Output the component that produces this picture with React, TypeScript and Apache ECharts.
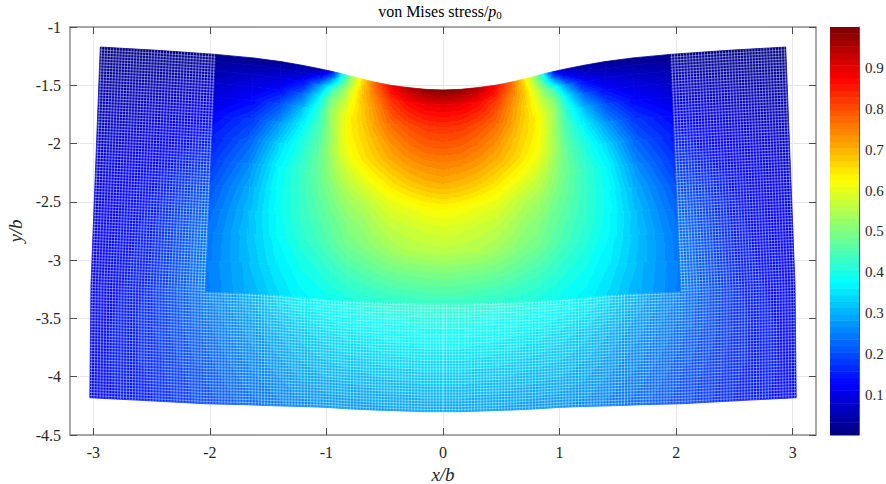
import React, { useEffect, useRef } from "react";
import * as echarts from "echarts";

// Half-width node columns (|x|/b; the plot is mirrored about x = 0)
const columns = [0, 0.15, 0.3, 0.45, 0.6, 0.7, 0.8, 0.87, 0.95, 1.05, 1.2, 1.4, 1.65, 2, 2.5, 3];
const xTop = [0, 0.15, 0.3, 0.45, 0.6, 0.7, 0.8, 0.87, 0.95, 1.05, 1.2, 1.39, 1.63, 1.95, 2.45, 2.94];
const xInner = [0, 0.15, 0.31, 0.46, 0.61, 0.71, 0.82, 0.89, 0.97, 1.07, 1.23, 1.43, 1.69, 2.04, 2.54, 3.02];
const xBottom = [0, 0.15, 0.31, 0.46, 0.61, 0.71, 0.82, 0.89, 0.97, 1.07, 1.23, 1.43, 1.69, 2.04, 2.54, 3.03];
const yTop = [-1.54, -1.535, -1.52, -1.5, -1.47, -1.445, -1.42, -1.4, -1.382, -1.36, -1.33, -1.297, -1.265, -1.235, -1.2, -1.172];
const yInner = [-3.375, -3.375, -3.37, -3.365, -3.36, -3.355, -3.35, -3.345, -3.34, -3.33, -3.32, -3.3, -3.285, -3.272, -3.245, -3.22];
const yBottom = [-4.3, -4.3, -4.295, -4.29, -4.285, -4.28, -4.275, -4.27, -4.265, -4.26, -4.255, -4.25, -4.24, -4.232, -4.205, -4.18];

// Row fractions: 13 rows from the surface to the dense block's lower edge, then 3 below it
const upperRows = [0, 0.03, 0.07, 0.12, 0.18, 0.26, 0.35, 0.45, 0.55, 0.65, 0.75, 0.87, 1];
const lowerRows = [0.33, 0.67, 1];

// von Mises stress / p0, one line per column in `columns`, top to bottom
const stress = [
  [1.0, 0.96, 0.9, 0.865, 0.825, 0.79, 0.745, 0.7, 0.63, 0.59, 0.56, 0.495, 0.43, 0.375, 0.325, 0.285],
  [0.985, 0.95, 0.895, 0.86, 0.82, 0.785, 0.74, 0.69, 0.625, 0.585, 0.555, 0.49, 0.43, 0.375, 0.325, 0.285],
  [0.945, 0.92, 0.87, 0.84, 0.8, 0.765, 0.725, 0.675, 0.61, 0.575, 0.55, 0.485, 0.425, 0.37, 0.32, 0.28],
  [0.875, 0.86, 0.825, 0.8, 0.77, 0.735, 0.7, 0.65, 0.6, 0.565, 0.535, 0.48, 0.42, 0.365, 0.32, 0.28],
  [0.76, 0.755, 0.74, 0.72, 0.715, 0.69, 0.67, 0.62, 0.57, 0.54, 0.515, 0.465, 0.415, 0.36, 0.315, 0.275],
  [0.64, 0.66, 0.68, 0.675, 0.67, 0.66, 0.645, 0.6, 0.55, 0.52, 0.5, 0.455, 0.41, 0.355, 0.31, 0.275],
  [0.5, 0.53, 0.58, 0.605, 0.635, 0.635, 0.615, 0.575, 0.535, 0.51, 0.49, 0.445, 0.405, 0.35, 0.31, 0.27],
  [0.36, 0.42, 0.5, 0.55, 0.585, 0.59, 0.585, 0.55, 0.52, 0.49, 0.475, 0.435, 0.395, 0.345, 0.305, 0.27],
  [0.12, 0.25, 0.42, 0.5, 0.535, 0.535, 0.535, 0.52, 0.495, 0.475, 0.46, 0.425, 0.39, 0.34, 0.305, 0.27],
  [0.05, 0.12, 0.27, 0.38, 0.43, 0.45, 0.475, 0.48, 0.47, 0.455, 0.44, 0.41, 0.38, 0.335, 0.3, 0.265],
  [0.035, 0.07, 0.13, 0.22, 0.31, 0.38, 0.41, 0.43, 0.43, 0.425, 0.415, 0.39, 0.37, 0.32, 0.29, 0.26],
  [0.025, 0.05, 0.09, 0.13, 0.2, 0.27, 0.34, 0.375, 0.385, 0.385, 0.375, 0.36, 0.34, 0.3, 0.27, 0.245],
  [0.02, 0.04, 0.07, 0.1, 0.13, 0.18, 0.22, 0.265, 0.295, 0.31, 0.315, 0.31, 0.295, 0.27, 0.25, 0.225],
  [0.015, 0.03, 0.05, 0.07, 0.095, 0.13, 0.155, 0.175, 0.205, 0.225, 0.24, 0.245, 0.25, 0.23, 0.21, 0.195],
  [0.012, 0.02, 0.03, 0.045, 0.06, 0.08, 0.1, 0.12, 0.135, 0.145, 0.15, 0.155, 0.16, 0.165, 0.16, 0.155],
  [0.008, 0.012, 0.02, 0.03, 0.045, 0.055, 0.07, 0.085, 0.095, 0.105, 0.11, 0.115, 0.12, 0.13, 0.135, 0.13],
];

const xTicks = [-3, -2, -1, 0, 1, 2, 3];
const barTicks = [0.1, 0.2, 0.3, 0.4, 0.5, 0.6, 0.7, 0.8, 0.9];
const BAR_MIN = 0.002;
const BAR_MAX = 1;
const BANDS = 64;

const jetChannel = (t: number) => Math.max(0, Math.min(1, 1.5 - Math.abs(4 * t - 2)));
function jetBand(k: number): string {
  const t = (Math.max(0, Math.min(BANDS - 1, k)) + 0.5) / BANDS;
  const c = (f: number) => Math.round(255 * jetChannel(f));
  return `rgb(${c(t - 0.25)},${c(t)},${c(t + 0.25)})`;
}
const bandOf = (v: number) => Math.floor(((v - BAR_MIN) / (BAR_MAX - BAR_MIN)) * BANDS);
const bandEdge = (k: number) => BAR_MIN + ((BAR_MAX - BAR_MIN) * k) / BANDS;

function nodeAt(col: number, row: number): [number, number] {
  const sign = col < 0 ? -1 : 1;
  const i = Math.abs(col);
  let x, y;
  if (row < upperRows.length) {
    const t = upperRows[row];
    x = xTop[i] + (xInner[i] - xTop[i]) * t;
    y = yTop[i] + (yInner[i] - yTop[i]) * t;
  } else {
    const t = lowerRows[row - upperRows.length];
    x = xInner[i] + (xBottom[i] - xInner[i]) * t;
    y = yInner[i] + (yBottom[i] - yInner[i]) * t;
  }
  return [sign * x, y];
}

// One item per mesh cell: its four corner nodes and the stress read at each
const cells: number[][] = [];
const last = columns.length - 1;
const rowCount = upperRows.length + lowerRows.length;
for (let col = -last; col < last; col++) {
  for (let row = 0; row < rowCount - 1; row++) {
    const a = nodeAt(col, row);
    const b = nodeAt(col + 1, row);
    const c = nodeAt(col + 1, row + 1);
    const d = nodeAt(col, row + 1);
    const l = Math.abs(col);
    const r = Math.abs(col + 1);
    cells.push([
      ...a, ...b, ...c, ...d,
      stress[l][row], stress[r][row], stress[r][row + 1], stress[l][row + 1],
    ]);
  }
}

// Mesh texture: the white gaps between points of the coarse outer mesh
function section(x: number, arr: number[]) {
  let i = 0;
  while (i < last - 1 && columns[i + 1] < x) i++;
  const f = (x - columns[i]) / (columns[i + 1] - columns[i]);
  return arr[i] + (arr[i + 1] - arr[i]) * f;
}
const GAP = 0.0257;
const gapLines: number[][][] = [];
for (let x = 0.006; x < 3; x += GAP) {
  for (const s of [-1, 1]) {
    const line: number[][] = [];
    const xi = section(x, xInner), yi = section(x, yInner);
    if (x > 2) line.push([s * section(x, xTop), section(x, yTop)]);
    line.push([s * xi, yi], [s * section(x, xBottom), section(x, yBottom)]);
    gapLines.push(line);
  }
}
const sample = (from: number, to: number) => [from, ...columns.filter((c) => c > from && c < to), to];
for (let t = 0.012; t < 1; t += 0.0126) {
  for (const s of [-1, 1]) {
    gapLines.push(sample(2, 3).map((x) => {
      const ty = section(x, yTop), iy = section(x, yInner), tx = section(x, xTop), ix = section(x, xInner);
      return [s * (tx + (ix - tx) * t), ty + (iy - ty) * t];
    }));
  }
}
for (let t = 0.015; t < 1; t += 0.0268) {
  for (const s of [-1, 1]) {
    gapLines.push(sample(0, 3).map((x) => {
      const iy = section(x, yInner), by = section(x, yBottom), ix = section(x, xInner), bx = section(x, xBottom);
      return [s * (ix + (bx - ix) * t), iy + (by - iy) * t];
    }));
  }
}

const barBands = Array.from({ length: BANDS }, (_, i) => [bandEdge(i), bandEdge(i + 1), i]);

const FONT = "'Liberation Serif', serif";
const INK = "#262626";
const BOX = "#8c8c8c";

function renderCell(_: any, api: any) {
  const p = [0, 2, 4, 6].map((k) => api.coord([api.value(k), api.value(k + 1)]));
  const v = [8, 9, 10, 11].map((k) => api.value(k));
  const points = p.map((q: number[]) => [q[0], q[1]]);
  const cx = (p[0][0] + p[1][0] + p[2][0] + p[3][0]) / 4;
  const cy = (p[0][1] + p[1][1] + p[2][1] + p[3][1]) / 4;
  const vc = (v[0] + v[1] + v[2] + v[3]) / 4;
  const ux = (p[1][0] + p[2][0] - p[0][0] - p[3][0]) / 2;
  const uy = (p[1][1] + p[2][1] - p[0][1] - p[3][1]) / 2;
  const wx = (p[3][0] + p[2][0] - p[0][0] - p[1][0]) / 2;
  const wy = (p[3][1] + p[2][1] - p[0][1] - p[1][1]) / 2;
  const du = (v[1] + v[2] - v[0] - v[3]) / 2;
  const dw = (v[3] + v[2] - v[0] - v[1]) / 2;
  const det = ux * wy - uy * wx;
  const gx = (du * wy - dw * uy) / det;
  const gy = (ux * dw - wx * du) / det;
  const g2 = gx * gx + gy * gy;
  const lo = Math.min(...v);
  const hi = Math.max(...v);
  let fill: any = jetBand(bandOf(vc));
  if (g2 > 1e-12 && bandOf(hi) > bandOf(lo)) {
    // Hard-edged stops: the 64 flat colour levels of the colour bar, laid along the cell's slope
    const stops: { offset: number; color: string }[] = [];
    for (let k = bandOf(lo); k <= bandOf(hi); k++) {
      const color = jetBand(k);
      const from = Math.max(lo, bandEdge(k));
      const to = Math.min(hi, bandEdge(k + 1));
      stops.push({ offset: (from - lo) / (hi - lo), color }, { offset: (to - lo) / (hi - lo), color });
    }
    fill = new echarts.graphic.LinearGradient(
      cx + (gx * (lo - vc)) / g2,
      cy + (gy * (lo - vc)) / g2,
      cx + (gx * (hi - vc)) / g2,
      cy + (gy * (hi - vc)) / g2,
      stops,
      true
    );
  }
  return { type: "polygon", shape: { points }, style: { fill, stroke: fill, lineWidth: 0.8 } };
}

function renderGap(params: any, api: any) {
  const line = gapLines[params.dataIndex];
  return {
    type: "polyline",
    shape: { points: line.map((q) => api.coord(q)) },
    style: { fill: "none", stroke: "#ffffff", lineWidth: 0.75, opacity: 0.55 },
  };
}

function renderBand(params: any, api: any) {
  const a = api.coord([0, api.value(0)]);
  const b = api.coord([1, api.value(1)]);
  return {
    type: "rect",
    shape: { x: a[0], y: b[1], width: b[0] - a[0], height: a[1] - b[1] + 0.5 },
    style: { fill: jetBand(api.value(2)) },
  };
}

export default function App() {
  const ref = useRef<HTMLDivElement>(null);
  useEffect(() => {
    document.body.style.margin = "0";
    const chart = echarts.init(ref.current!, null, { renderer: "svg" });
    const label = { fontFamily: FONT, fontSize: 16, color: INK };
    const line = { show: true, onZero: false, lineStyle: { color: BOX, width: 1.5 } };
    const tick = { show: true, inside: true, length: 7, lineStyle: { color: "#4d4d4d", width: 1 } };
    const split = { show: true, lineStyle: { color: "#e8e8e8", width: 1 } };
    chart.setOption({
      animation: false,
      title: {
        text: "{a|von Mises stress/}{b|p}{c|0}",
        left: 440,
        top: 3,
        padding: 0,
        textAlign: "center",
        textStyle: {
          rich: {
            a: { fontFamily: FONT, fontSize: 16, fontWeight: "normal", color: "#000" },
            b: { fontFamily: FONT, fontSize: 16, fontWeight: "normal", fontStyle: "italic", color: "#000" },
            c: { fontFamily: FONT, fontSize: 11, fontWeight: "normal", color: "#000", verticalAlign: "bottom", padding: [6, 0, 0, 0] },
          },
        },
      },
      grid: [
        { left: 70, right: 70, top: 27, bottom: 49, outerBoundsMode: "none" },
        { left: 830, right: 27, top: 27, bottom: 49, outerBoundsMode: "none" },
      ],
      xAxis: [
        {
          type: "value", gridIndex: 0, min: -3.2, max: 3.2, position: "bottom",
          name: "x/b", nameLocation: "middle", nameGap: 29,
          nameTextStyle: { fontFamily: FONT, fontSize: 19, fontStyle: "italic", color: INK },
          axisLine: line, axisTick: { ...tick, customValues: xTicks },
          axisLabel: { ...label, margin: 9, customValues: xTicks, formatter: (v: number) => String(v) },
          splitLine: split,
        },
        {
          type: "value", gridIndex: 0, min: -3.2, max: 3.2, position: "top",
          axisLine: line, axisTick: { ...tick, customValues: xTicks },
          axisLabel: { show: false, customValues: xTicks }, splitLine: { show: false },
        },
        { type: "value", gridIndex: 1, min: 0, max: 1, show: false, splitLine: { show: false } },
      ],
      yAxis: [
        {
          type: "value", gridIndex: 0, min: -4.5, max: -1, interval: 0.5, position: "left",
          name: "y/b", nameLocation: "middle", nameGap: 32, nameRotate: 90,
          nameTextStyle: { fontFamily: FONT, fontSize: 19, fontStyle: "italic", color: INK },
          axisLine: line, axisTick: tick,
          axisLabel: { ...label, margin: 9, formatter: (v: number) => String(v) },
          splitLine: split,
        },
        {
          type: "value", gridIndex: 0, min: -4.5, max: -1, interval: 0.5, position: "right",
          axisLine: line, axisTick: tick, axisLabel: { show: false }, splitLine: { show: false },
        },
        {
          type: "value", gridIndex: 1, min: BAR_MIN, max: BAR_MAX, position: "right",
          axisLine: { show: true, onZero: false, lineStyle: { color: "#555", width: 1 } },
          axisTick: { show: true, inside: true, length: 4, lineStyle: { color: "#333", width: 1 }, customValues: barTicks },
          axisLabel: { ...label, fontSize: 15, margin: 6, customValues: barTicks, formatter: (v: number) => String(Math.round(v * 10) / 10) },
          splitLine: { show: false },
        },
      ],
      series: [
        {
          type: "custom", name: "stress", xAxisIndex: 0, yAxisIndex: 0, data: cells,
          encode: { x: [0, 2, 4, 6], y: [1, 3, 5, 7] }, renderItem: renderCell, silent: true, z: 3,
        },
        {
          type: "custom", name: "mesh gaps", xAxisIndex: 0, yAxisIndex: 0,
          data: gapLines.map((_, i) => [i]), renderItem: renderGap, silent: true, z: 4,
        },
        {
          type: "custom", name: "colorbar", xAxisIndex: 2, yAxisIndex: 2, data: barBands,
          encode: { y: [0, 1] }, renderItem: renderBand, silent: true, z: 3,
        },
      ],
    });
    return () => chart.dispose();
  }, []);
  return <div ref={ref} style={{ width: 886, height: 484 }} />;
}
